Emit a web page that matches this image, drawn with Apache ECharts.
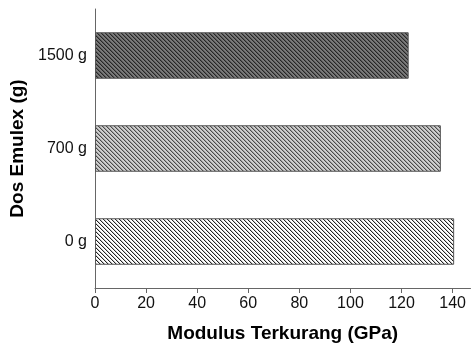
<!DOCTYPE html>
<html>
<head>
<meta charset="utf-8">
<script src="https://cdn.jsdelivr.net/npm/echarts@6/dist/echarts.min.js"></script>
<style>
html,body{margin:0;padding:0;background:#fff;}
#chart{width:476px;height:345px;}
</style>
</head>
<body>
<div id="chart"></div>
<script>
// Data
const categories = ['0 g', '700 g', '1500 g'];
const modulusValues = [140.6, 135.4, 122.8];
const xTicks = [0, 20, 40, 60, 80, 100, 120, 140];
const xAxisMax = 147;

function hatch(bg, fg, size, soft) {
  const c = document.createElement('canvas');
  c.width = size; c.height = size;
  const ctx = c.getContext('2d');
  ctx.fillStyle = bg;
  ctx.fillRect(0, 0, size, size);
  ctx.fillStyle = fg;
  for (let y = 0; y < size; y++) {
    for (let x = 0; x < size; x++) {
      const d = ((x - y) % size + size) % size;
      if (d === 0) ctx.fillRect(x, y, 1, 1);
      if (d === 1 && soft > 0) { ctx.globalAlpha = soft; ctx.fillRect(x, y, 1, 1); ctx.globalAlpha = 1; }
    }
  }
  return c;
}

const patterns = [
  hatch('#ffffff', '#222222', 4, 0.25),
  hatch('#cfcfcf', '#4a4a4a', 4, 0.35),
  hatch('#7a7a7a', '#262626', 4, 0.4)
];

const chart = echarts.init(document.getElementById('chart'), null, {renderer: 'canvas'});
const fontFamily = 'Liberation Sans, Arial, sans-serif';

chart.setOption({
  animation: false,
  backgroundColor: '#ffffff',
  grid: {left: 95, top: 9, bottom: 57, right: 5.5, containLabel: false, outerBoundsMode: 'none'},
  xAxis: {
    type: 'value',
    min: 0,
    max: xAxisMax,
    interval: 20,
    name: 'Modulus Terkurang (GPa)',
    nameLocation: 'middle',
    nameGap: 36,
    nameTextStyle: {fontFamily: fontFamily, fontSize: 19, fontWeight: 'bold', color: '#000'},
    axisLine: {show: true, onZero: false, lineStyle: {color: '#666', width: 1}},
    axisTick: {show: true, length: 5, inside: false, customValues: xTicks, lineStyle: {color: '#666'}},
    axisLabel: {customValues: xTicks, fontFamily: fontFamily, fontSize: 16, color: '#111', margin: 8},
    splitLine: {show: false}
  },
  yAxis: {
    type: 'category',
    data: categories,
    name: 'Dos Emulex (g)',
    nameLocation: 'middle',
    nameGap: 58,
    nameRotate: 90,
    nameTextStyle: {fontFamily: fontFamily, fontSize: 19, fontWeight: 'bold', color: '#000'},
    axisLine: {show: true, lineStyle: {color: '#666', width: 1}},
    axisTick: {show: false},
    axisLabel: {fontFamily: fontFamily, fontSize: 16, color: '#111', margin: 8},
    splitLine: {show: false}
  },
  series: [{
    type: 'bar',
    data: modulusValues.map((v, i) => ({
      value: v,
      itemStyle: {color: {image: patterns[i], repeat: 'repeat'}}
    })),
    barWidth: '50%',
    itemStyle: {borderColor: '#555', borderWidth: 1}
  }]
});
</script>
</body>
</html>
